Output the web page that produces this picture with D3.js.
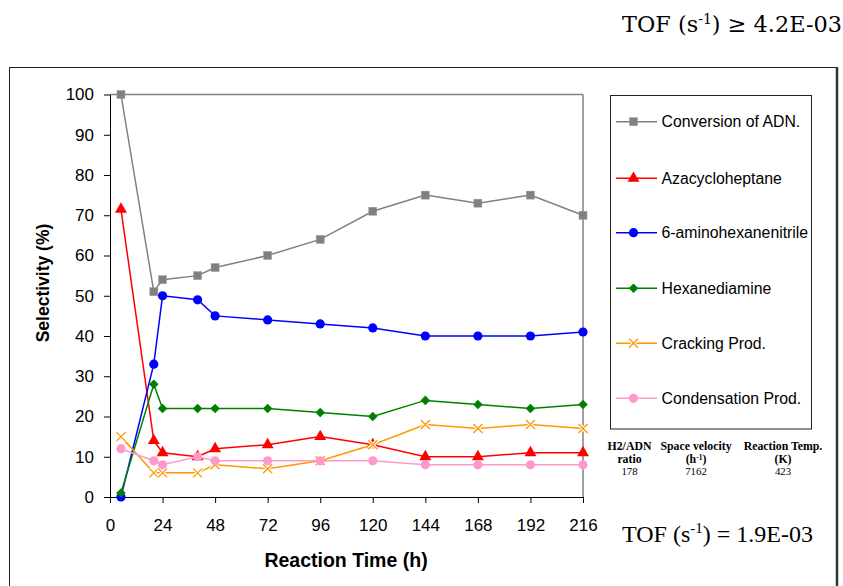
<!DOCTYPE html>
<html>
<head>
<meta charset="utf-8">
<script src="https://cdn.jsdelivr.net/npm/d3@7"></script>
<style>
  body { margin: 0; background: #fff; }
  svg { display: block; }
</style>
</head>
<body>
<svg id="chart" width="843" height="586"></svg>
<script>
// ---- data ----
const times = [5, 20, 24, 40, 48, 72, 96, 120, 144, 168, 192, 216];
const conversion   = [100, 51, 54, 55, 57, 60, 64, 71, 75, 73, 75, 70];
const azacyclo     = [71.5, 14, 11, 10, 12, 13, 15, 13, 10, 10, 11, 11];
const aminohexa    = [0, 33, 50, 49, 45, 44, 43, 42, 40, 40, 40, 41];
const hexanediam   = [1, 28, 22, 22, 22, 22, 21, 20, 24, 23, 22, 23];
const cracking     = [15, 6, 6, 6, 8, 7, 9, 13, 18, 17, 18, 17];
const condensation = [12, 9, 8, 10, 9, 9, 9, 9, 8, 8, 8, 8];
const xTicks = [0, 24, 48, 72, 96, 120, 144, 168, 192, 216];
const yTicks = [0, 10, 20, 30, 40, 50, 60, 70, 80, 90, 100];
const seriesNames = ["Conversion of ADN.", "Azacycloheptane", "6-aminohexanenitrile",
                     "Hexanediamine", "Cracking Prod.", "Condensation Prod."];
const tableHead1 = ["H2/ADN", "Space velocity", "Reaction Temp."];
const tableHead2 = [["ratio"], ["(h", "-1", ")"], ["(K)"]];
const tableVals = ["178", "7162", "423"];

const series = [
  { name: seriesNames[0], values: conversion,   color: "#808080", marker: "square" },
  { name: seriesNames[1], values: azacyclo,     color: "#ff0000", marker: "triangle" },
  { name: seriesNames[2], values: aminohexa,    color: "#0000ff", marker: "circle" },
  { name: seriesNames[3], values: hexanediam,   color: "#008000", marker: "diamond" },
  { name: seriesNames[4], values: cracking,     color: "#ff9900", marker: "x" },
  { name: seriesNames[5], values: condensation, color: "#ff99cc", marker: "circle" }
];

const svg = d3.select("#chart");

// outer frame
svg.append("rect").attr("x", 9.5).attr("y", 67.5).attr("width", 827).attr("height", 540)
  .attr("fill", "none").attr("stroke", "#222").attr("stroke-width", 1);
svg.append("line").attr("x1", 837).attr("x2", 837).attr("y1", 67).attr("y2", 586)
  .attr("stroke", "#333").attr("stroke-width", 2.5);

const x = d3.scaleLinear().domain([0, 216]).range([110, 583]);
const y = d3.scaleLinear().domain([0, 100]).range([497, 94.5]);

// plot area gray border (top and right)
svg.append("line").attr("x1", x(0)).attr("x2", x(216)).attr("y1", y(100)).attr("y2", y(100))
  .attr("stroke", "#808080").attr("stroke-width", 1.5);
svg.append("line").attr("x1", x(216)).attr("x2", x(216)).attr("y1", y(100)).attr("y2", y(0))
  .attr("stroke", "#808080").attr("stroke-width", 1.5);

// axes
const yAxis = svg.append("g").attr("transform", `translate(${x(0)},0)`)
  .call(d3.axisLeft(y).tickValues(yTicks).tickSize(6).tickSizeOuter(0).tickPadding(10));
const xAxis = svg.append("g").attr("transform", `translate(0,${y(0)})`)
  .call(d3.axisBottom(x).tickValues(xTicks).tickSize(6).tickSizeOuter(0).tickPadding(15.5));
[xAxis, yAxis].forEach(g => {
  g.selectAll("text").attr("font-family", "Liberation Sans, Arial, sans-serif")
    .attr("font-size", 17).attr("fill", "#000");
  g.selectAll("line").attr("stroke", "#000");
  g.select(".domain").attr("stroke", "#000");
});

// axis titles
svg.append("text").attr("x", 346).attr("y", 566.5).attr("text-anchor", "middle")
  .attr("font-family", "Liberation Sans, Arial, sans-serif").attr("font-weight", "bold")
  .attr("font-size", 19.5).text("Reaction Time (h)");
svg.append("text").attr("transform", "translate(48.5,283) rotate(-90)").attr("text-anchor", "middle")
  .attr("font-family", "Liberation Sans, Arial, sans-serif").attr("font-weight", "bold")
  .attr("font-size", 17.5).text("Selectivity (%)");

// marker drawer
function drawMarker(g, type, color, cx, cy) {
  if (type === "square") {
    g.append("rect").attr("x", cx - 4).attr("y", cy - 4).attr("width", 8).attr("height", 8)
      .attr("fill", color).attr("stroke", "#999").attr("stroke-width", 0.5);
  } else if (type === "triangle") {
    g.append("path").attr("d", d3.symbol(d3.symbolTriangle, 62)())
      .attr("transform", `translate(${cx},${cy})`).attr("fill", color);
  } else if (type === "circle") {
    g.append("circle").attr("cx", cx).attr("cy", cy).attr("r", 4.6).attr("fill", color);
  } else if (type === "diamond") {
    g.append("path").attr("d", d3.symbol(d3.symbolSquare, 46)())
      .attr("transform", `translate(${cx},${cy}) rotate(45)`).attr("fill", color);
  } else if (type === "x") {
    const p = "M-4.5,-4.5L4.5,4.5M-4.5,4.5L4.5,-4.5";
    g.append("path").attr("d", p).attr("transform", `translate(${cx},${cy})`)
      .attr("stroke", "#fff").attr("stroke-width", 3.5).attr("fill", "none");
    g.append("path").attr("d", p).attr("transform", `translate(${cx},${cy})`)
      .attr("stroke", color).attr("stroke-width", 1.3).attr("fill", "none");
  }
}

// series
const line = d3.line().x(d => x(d[0])).y(d => y(d[1]));
series.forEach(s => {
  const g = svg.append("g");
  const pts = times.map((t, i) => [t, s.values[i]]);
  g.append("path").datum(pts).attr("d", line).attr("fill", "none")
    .attr("stroke", s.color).attr("stroke-width", 1.5);
  pts.forEach(p => drawMarker(g, s.marker, s.color, x(p[0]), y(p[1])));
});

// legend
const lg = svg.append("g");
lg.append("rect").attr("x", 610.5).attr("y", 95.5).attr("width", 201).attr("height", 333.5)
  .attr("fill", "#fff").attr("stroke", "#222").attr("stroke-width", 1);
const legendY = [121.7, 178.3, 232.7, 288.3, 343.3, 398.3];
series.forEach((s, i) => {
  const ly = legendY[i];
  lg.append("line").attr("x1", 616).attr("x2", 657).attr("y1", ly).attr("y2", ly)
    .attr("stroke", s.color).attr("stroke-width", 1.5);
  drawMarker(lg, s.marker, s.color, 633.5, ly);
  lg.append("text").attr("x", 661.5).attr("y", ly + 5.6)
    .attr("font-family", "Liberation Sans, Arial, sans-serif").attr("font-size", 15.8)
    .attr("textLength", null)
    .attr("fill", "#000").text(s.name);
});

// table of conditions
const colX = [629.5, 696, 783];
tableHead1.forEach((t, i) => {
  svg.append("text").attr("x", colX[i]).attr("y", 450).attr("text-anchor", "middle")
    .attr("font-family", "Liberation Serif, Times New Roman, serif").attr("font-weight", "bold")
    .attr("font-size", 11.8).text(t);
});
tableHead2.forEach((parts, i) => {
  const t = svg.append("text").attr("x", colX[i]).attr("y", 463).attr("text-anchor", "middle")
    .attr("font-family", "Liberation Serif, Times New Roman, serif").attr("font-weight", "bold")
    .attr("font-size", 11.8);
  if (parts.length === 3) {
    t.append("tspan").text(parts[0]);
    t.append("tspan").attr("font-size", 7.5).attr("dy", -3.5).text(parts[1]);
    t.append("tspan").attr("dy", 3.5).text(parts[2]);
  } else {
    t.text(parts[0]);
  }
});
tableVals.forEach((v, i) => {
  svg.append("text").attr("x", colX[i]).attr("y", 475).attr("text-anchor", "middle")
    .attr("font-family", "Liberation Serif, Times New Roman, serif")
    .attr("font-size", 10.8).text(v);
});

// TOF labels
const tofTop = svg.append("text").attr("x", 622).attr("y", 31.7)
  .attr("font-family", "DejaVu Serif, serif").attr("font-size", 22.4).attr("fill", "#000");
tofTop.append("tspan").text("TOF (s");
tofTop.append("tspan").attr("font-size", 14).attr("dy", -7.5).text("-1");
tofTop.append("tspan").attr("dy", 7.5).text(") \u2265 4.2E-03");

const tofBot = svg.append("text").attr("x", 622).attr("y", 541.7)
  .attr("font-family", "Liberation Serif, Times New Roman, serif").attr("font-size", 24).attr("fill", "#000");
tofBot.append("tspan").text("TOF (s");
tofBot.append("tspan").attr("font-size", 15).attr("dy", -9).text("-1");
tofBot.append("tspan").attr("dy", 9).text(") = 1.9E-03");
</script>
</body>
</html>
